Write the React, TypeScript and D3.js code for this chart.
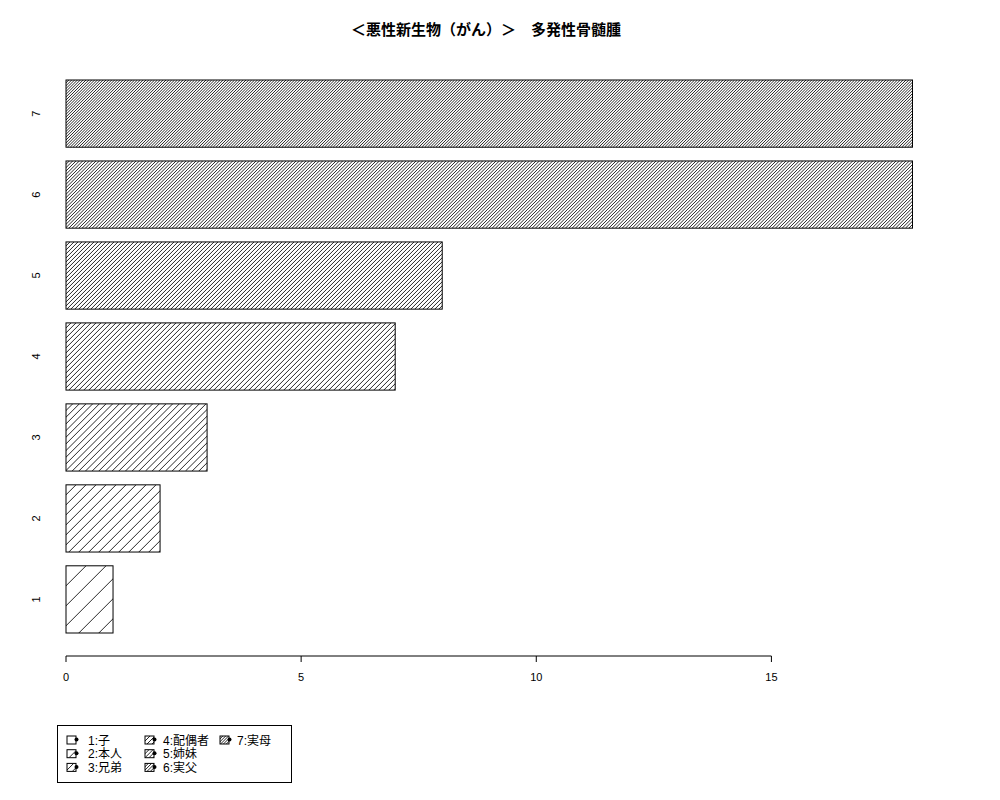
import * as d3 from "d3";

const categories = ["1", "2", "3", "4", "5", "6", "7"];
const counts = [1, 2, 3, 7, 8, 18, 18];
const legendLabels = ["1:子", "2:本人", "3:兄弟", "4:配偶者", "5:姉妹", "6:実父", "7:実母"];
const xTicks = [0, 5, 10, 15];
const title = "＜悪性新生物（がん）＞　多発性骨髄腫";

const width = 1000;
const height = 800;
const font = "'Liberation Sans', Arial, 'Noto Sans CJK JP', sans-serif";

// hatch spacing in px (horizontal) for each category, denser with index
const hatchStep = (i: number) => 20 / (i + 1);

// 45 degree hatch lines inside a box, clipped
function Hatch({ id, x0, y0, w, h, step }: { id: string; x0: number; y0: number; w: number; h: number; step: number }) {
  const lines: string[] = [];
  for (let off = -h; off < w; off += step) {
    lines.push(`M${x0 + off},${y0 + h} L${x0 + off + h},${y0}`);
  }
  return (
    <g>
      <clipPath id={id}>
        <rect x={x0} y={y0} width={w} height={h} />
      </clipPath>
      <path d={lines.join(" ")} stroke="#000" strokeWidth={0.85} fill="none" clipPath={`url(#${id})`} />
    </g>
  );
}

export default function App() {
  const x = d3.scaleLinear().domain([0, 18]).range([66, 912.5]);
  const y = d3
    .scaleBand<string>()
    .domain([...categories].reverse())
    .range([80, 633])
    .paddingInner(0.17)
    .paddingOuter(0);

  const axisY = 656;

  return (
    <svg
      width={width}
      height={height}
      style={{ position: "absolute", left: 0, top: 0, background: "#fff" }}
      fontFamily={font}
    >
      <text
        x={486}
        y={35}
        textAnchor="middle"
        fontSize={15}
        fontWeight="bold"
        fontFamily="'Noto Sans CJK JP', sans-serif"
      >
        {title}
      </text>

      {categories.map((c, i) => {
        const bx = x(0);
        const by = y(c)!;
        const bw = x(counts[i]) - x(0);
        const bh = y.bandwidth();
        return (
          <g key={c}>
            <Hatch id={`bar${i}`} x0={bx} y0={by} w={bw} h={bh} step={hatchStep(i)} />
            <rect x={bx} y={by} width={bw} height={bh} fill="none" stroke="#000" strokeWidth={1} />
          </g>
        );
      })}

      {categories.map((c) => {
        const cy = y(c)! + y.bandwidth() / 2;
        return (
          <text
            key={c}
            transform={`translate(40,${cy}) rotate(-90)`}
            textAnchor="middle"
            fontSize={11}
          >
            {c}
          </text>
        );
      })}

      <line
        x1={x(xTicks[0])}
        x2={x(xTicks[xTicks.length - 1])}
        y1={axisY}
        y2={axisY}
        stroke="#000"
      />
      {xTicks.map((t) => (
        <g key={t} transform={`translate(${x(t)},0)`}>
          <line y1={axisY} y2={axisY + 6} stroke="#000" />
          <text y={axisY + 25} textAnchor="middle" fontSize={11}>
            {t}
          </text>
        </g>
      ))}

      <rect x={57.5} y={725.5} width={234} height={57} fill="none" stroke="#000" />
      {legendLabels.map((lab, i) => {
        const col = Math.floor(i / 3);
        const row = i % 3;
        const colX = [67, 145, 220][col];
        const textX = [88, 163, 237][col];
        const ry = 740 + row * 13.7;
        return (
          <g key={lab}>
            <Hatch id={`leg${i}`} x0={colX} y0={ry - 4} w={9} h={8} step={hatchStep(i)} />
            <rect x={colX} y={ry - 4} width={9} height={8} fill="none" stroke="#000" strokeWidth={1} />
            <circle cx={colX + 9.5} cy={ry - 0.5} r={2} fill="#000" />
            <text x={textX} y={ry + 4.5} fontSize={12}>
              {lab}
            </text>
          </g>
        );
      })}
    </svg>
  );
}
